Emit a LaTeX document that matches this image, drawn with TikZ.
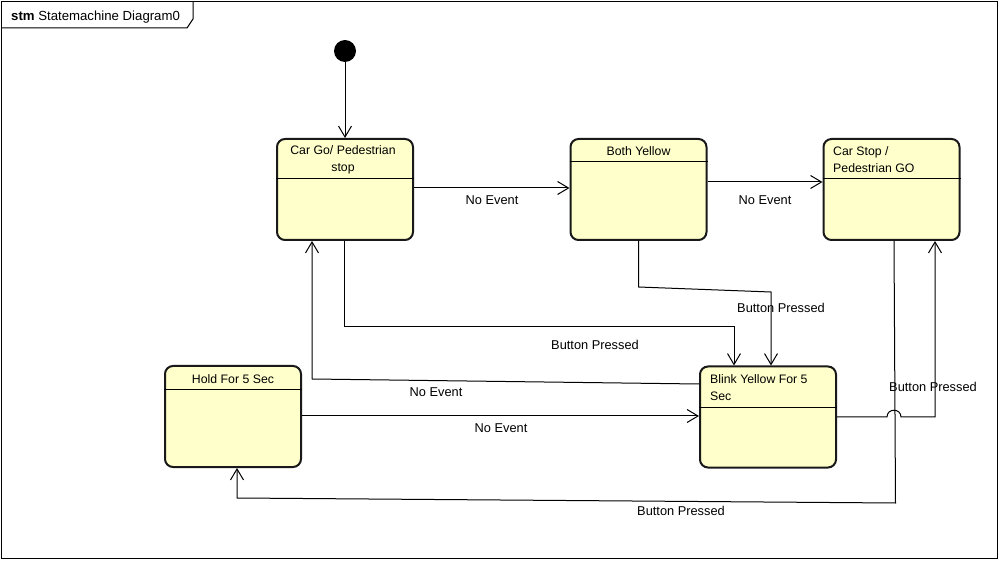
\documentclass[tikz,border=0pt]{standalone}
\usepackage{fontspec}
\setmainfont{Liberation Sans}
\usetikzlibrary{arrows.meta}
\definecolor{statefill}{HTML}{FFFFCC}
\begin{document}
\begin{tikzpicture}[x=1pt,y=-1pt,
  every node/.style={font=\fontsize{12.3}{17}\selectfont, inner sep=0pt},
  state/.style={draw=black!90, fill=statefill, line width=2pt, rounded corners=8pt,
    minimum width=136pt, minimum height=101pt},
  sep/.style={line width=1pt, black},
  tr/.style={line width=1pt, black, -{Straight Barb[length=11pt,width=13pt]}},
  lbl/.style={font=\fontsize{12.8}{17}\selectfont}]
\useasboundingbox (0,0) rectangle (1002,561);
% frame
\draw[line width=1pt] (1.5,1.5) rectangle (997.5,558.5);
\draw[line width=1pt] (1.5,28) -- (187,28) -- (193,19) -- (193,1.5);
\node[anchor=west, font=\fontsize{13.2}{17}\selectfont] (frametitle) at (11,17) {\textbf{stm} Statemachine Diagram0};
% initial
\node[circle, fill=black, minimum size=22pt, inner sep=0pt] (init) at (345,51) {};
% states
\node[state] (cargo) at (345,189.5) {};
\node[state] (both) at (638.5,189.5) {};
\node[state] (carstop) at (891.5,189.5) {};
\node[state] (hold) at (233,416.5) {};
\node[state] (blink) at (768,417) {};
% separators
\draw[sep] ([yshift=-41pt]cargo.north west) -- ([yshift=-41pt]cargo.north east);
\draw[sep] ([yshift=-24pt]both.north west) -- ([yshift=-24pt]both.north east);
\draw[sep] ([yshift=-41pt]carstop.north west) -- ([yshift=-41pt]carstop.north east);
\draw[sep] ([yshift=-25pt]hold.north west) -- ([yshift=-25pt]hold.north east);
\draw[sep] ([yshift=-42pt]blink.north west) -- ([yshift=-42pt]blink.north east);
% titles
\node[align=center] (cargot) at (343,159.5) {Car Go/ Pedestrian\\stop};
\node (botht) at (638.5,151) {Both Yellow};
\node[align=left, anchor=west] (carstopt) at (833,159.5) {Car Stop /\\Pedestrian GO};
\node (holdt) at (233,379) {Hold For 5 Sec};
\node[align=left, anchor=west] (blinkt) at (710,387.5) {Blink Yellow For 5\\Sec};
% transitions
\draw[tr] (init) -- (cargo);
\draw[tr] (cargo.east |- 0,188) -- (both.west |- 0,188);
\draw[tr] (both.east |- 0,182) -- (carstop.west |- 0,182);
\draw[tr] (both.south) -- (638.5,287) -- (771,292) -- (771,0 |- blink.north);
\draw[tr] ([xshift=-1pt]cargo.south) -- (344,327) -- (734,327) -- (734,0 |- blink.north);
\draw[tr] (blink.west |- 0,384) -- (312,379) -- (312,0 |- cargo.south);
\draw[tr] (hold.east |- 0,416) -- (blink.west |- 0,416);
\draw[tr] (blink.east |- 0,417) -- (887,417) .. controls (887,408) and (901,408) .. (901,417) -- (935,417) -- (935,0 |- carstop.south);
\draw[tr] (894,0 |- carstop.south) -- (895.5,503) -- (237,498) -- (237,0 |- hold.south);
% labels
\node[lbl] (l1) at (492,200) {No Event};
\node[lbl] (l2) at (765,200) {No Event};
\node[lbl] (l3) at (781,308) {Button Pressed};
\node[lbl] (l4) at (595,345) {Button Pressed};
\node[lbl] (l5) at (436,392) {No Event};
\node[lbl] (l6) at (501,428) {No Event};
\node[lbl] (l7) at (933,387) {Button Pressed};
\node[lbl] (l8) at (681,511) {Button Pressed};
\end{tikzpicture}
\end{document}
